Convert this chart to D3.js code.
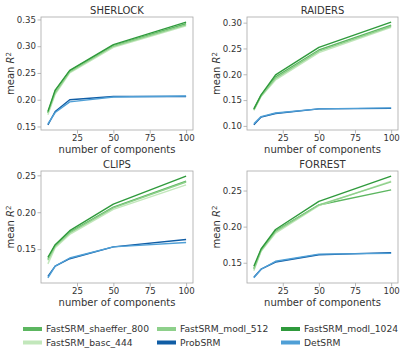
<!DOCTYPE html>
<html><head><meta charset="utf-8">
<script src="https://cdn.jsdelivr.net/npm/d3@7"></script>
<style>body{margin:0;background:#fff}svg{display:block}text{font-family:"DejaVu Sans",sans-serif}</style>
</head><body><svg id="c" width="417" height="351"></svg>
<script>
const components = [5, 10, 20, 50, 100];
const datasets = ["SHERLOCK", "RAIDERS", "CLIPS", "FORREST"];
const seriesNames = ["FastSRM_shaeffer_800", "FastSRM_basc_444", "FastSRM_modl_512", "ProbSRM", "FastSRM_modl_1024", "DetSRM"];
const seriesColors = ["#5cb660", "#c2e7bb", "#8ed08b", "#105da5", "#2f9a3c", "#4f9fd6"];
const xTicks = [25, 50, 75, 100];
const yTicks = {
  SHERLOCK: [0.15, 0.20, 0.25, 0.30, 0.35],
  RAIDERS: [0.10, 0.15, 0.20, 0.25, 0.30],
  CLIPS: [0.15, 0.20, 0.25],
  FORREST: [0.15, 0.20, 0.25]
};
// values per dataset, per series (in seriesNames order)
const sherlock = [
  [0.175, 0.216, 0.254, 0.301, 0.342],
  [0.172, 0.210, 0.250, 0.298, 0.338],
  [0.176, 0.213, 0.252, 0.300, 0.340],
  [0.153, 0.178, 0.200, 0.206, 0.206],
  [0.178, 0.218, 0.255, 0.303, 0.345],
  [0.155, 0.176, 0.196, 0.205, 0.207]
];
const raiders = [
  [0.132, 0.159, 0.195, 0.247, 0.295],
  [0.130, 0.157, 0.189, 0.242, 0.291],
  [0.131, 0.158, 0.192, 0.245, 0.293],
  [0.102, 0.117, 0.124, 0.133, 0.134],
  [0.133, 0.160, 0.199, 0.252, 0.301],
  [0.104, 0.118, 0.125, 0.133, 0.135]
];
const clips = [
  [0.137, 0.155, 0.173, 0.207, 0.242],
  [0.130, 0.152, 0.170, 0.204, 0.237],
  [0.135, 0.154, 0.172, 0.206, 0.241],
  [0.113, 0.127, 0.137, 0.153, 0.163],
  [0.139, 0.156, 0.175, 0.211, 0.249],
  [0.111, 0.127, 0.138, 0.153, 0.159]
];
const forrest = [
  [0.142, 0.168, 0.194, 0.230, 0.251],
  [0.139, 0.166, 0.191, 0.229, 0.263],
  [0.141, 0.167, 0.193, 0.230, 0.262],
  [0.130, 0.141, 0.151, 0.161, 0.164],
  [0.145, 0.169, 0.196, 0.235, 0.270],
  [0.129, 0.141, 0.152, 0.162, 0.163]
];
const values = {SHERLOCK: sherlock, RAIDERS: raiders, CLIPS: clips, FORREST: forrest};

const svg = d3.select("#c");
const panels = [
  {name: "SHERLOCK", x0: 41, x1: 193, y0: 17, y1: 130},
  {name: "RAIDERS", x0: 247, x1: 398, y0: 17, y1: 130},
  {name: "CLIPS", x0: 41, x1: 193, y0: 171, y1: 283},
  {name: "FORREST", x0: 247, x1: 398, y0: 171, y1: 283}
];
const spine = "#a8a8a8", txt = "#333333";

panels.forEach(p => {
  const vals = values[p.name];
  const all = vals.flat();
  const mn = d3.min(all), mx = d3.max(all), m = (mx - mn) * 0.05;
  const xm = (100 - 5) * 0.05;
  const x = d3.scaleLinear().domain([5 - xm, 100 + xm]).range([p.x0, p.x1]);
  const y = d3.scaleLinear().domain([mn - m, mx + m]).range([p.y1, p.y0]);
  const g = svg.append("g");

  const xa = g.append("g").attr("transform", `translate(0,${p.y1})`)
    .call(d3.axisBottom(x).tickValues(xTicks).tickFormat(d3.format("d")).tickSize(3.5).tickPadding(1.5));
  const ya = g.append("g").attr("transform", `translate(${p.x0},0)`)
    .call(d3.axisLeft(y).tickValues(yTicks[p.name]).tickFormat(d3.format(".2f")).tickSize(3.5).tickPadding(1.5));
  [xa, ya].forEach(a => {
    a.select(".domain").remove();
    a.selectAll("line").attr("stroke", spine).attr("stroke-width", 0.8);
    a.selectAll("text").attr("fill", txt).style("font-size", "8.6px").style("font-family", "DejaVu Sans");
  });

  const line = d3.line().x((d, i) => x(components[i])).y(d => y(d));
  vals.forEach((s, k) => {
    g.append("path").datum(s).attr("d", line).attr("fill", "none")
      .attr("stroke", seriesColors[k]).attr("stroke-width", 1.4).attr("stroke-linejoin", "round");
  });

  g.append("rect").attr("x", p.x0).attr("y", p.y0).attr("width", p.x1 - p.x0).attr("height", p.y1 - p.y0)
    .attr("fill", "none").attr("stroke", spine).attr("stroke-width", 0.8);

  g.append("text").attr("x", (p.x0 + p.x1) / 2).attr("y", p.y0 - 3).attr("text-anchor", "middle")
    .attr("fill", txt).style("font-size", "10px").text(p.name);
  g.append("text").attr("x", (p.x0 + p.x1) / 2).attr("y", p.y1 + 23).attr("text-anchor", "middle")
    .attr("fill", txt).style("font-size", "10px").text("number of components");
  const yl = g.append("text").attr("transform", `translate(${p.x0 - 31},${(p.y0 + p.y1) / 2}) rotate(-90)`)
    .attr("text-anchor", "middle").attr("dy", "0.35em").attr("fill", txt).style("font-size", "10px");
  yl.append("tspan").text("mean ");
  yl.append("tspan").style("font-style", "italic").text("R");
  yl.append("tspan").attr("dy", "-0.4em").style("font-size", "7px").text("2");
});

// legend (column-major like matplotlib)
const colX = [23, 157, 281];
const rowY = [329, 342.5];
seriesNames.forEach((n, k) => {
  const c = Math.floor(k / 2), r = k % 2;
  const lg = svg.append("g").attr("transform", `translate(${colX[c]},${rowY[r]})`);
  lg.append("line").attr("x1", 0).attr("x2", 19).attr("y1", 0).attr("y2", 0)
    .attr("stroke", seriesColors[k]).attr("stroke-width", 4);
  lg.append("text").attr("x", 23).attr("y", 0).attr("dy", "0.35em").attr("fill", txt)
    .style("font-size", "9.2px").text(n);
});
</script></body></html>
